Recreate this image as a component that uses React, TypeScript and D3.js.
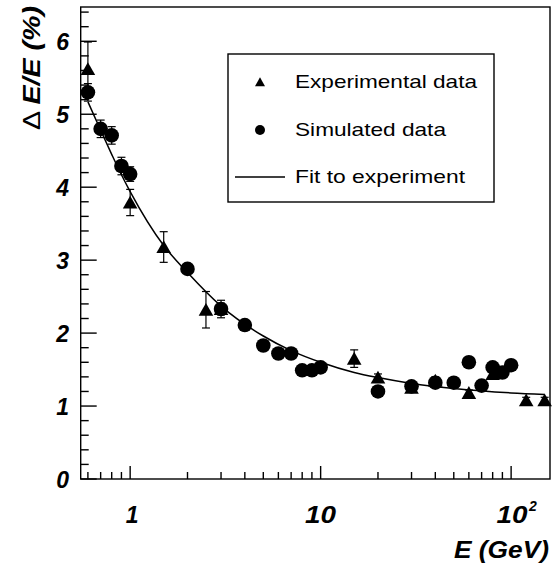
import React from "react";
import * as d3 from "d3";

const expE = [0.6, 1, 1.5, 2.5, 3, 15, 20, 30, 40, 60, 80, 120, 150];
const expV = [5.62, 3.79, 3.18, 2.32, 2.33, 1.65, 1.39, 1.25, 1.35, 1.18, 1.44, 1.08, 1.08];
const expErr = [0.37, 0.18, 0.21, 0.25, 0.12, 0.12, 0.05, 0.04, 0.05, 0.04, 0.05, 0.04, 0.04];

const simE = [0.6, 0.7, 0.8, 0.9, 1, 2, 3, 4, 5, 6, 7, 8, 9, 10, 20, 30, 40, 50, 60, 70, 80, 90, 100];
const simV = [5.3, 4.8, 4.71, 4.29, 4.18, 2.88, 2.33, 2.11, 1.83, 1.72, 1.72, 1.49, 1.49, 1.53, 1.2, 1.27, 1.32, 1.32, 1.6, 1.28, 1.53, 1.46, 1.56];
const simErr = [0.12, 0.12, 0.12, 0.12, 0.1, 0.05, 0.08, 0.05, 0.04, 0.04, 0.04, 0.04, 0.04, 0.04, 0.03, 0.03, 0.03, 0.03, 0.03, 0.03, 0.03, 0.03, 0.03];

const fitE = [0.6, 0.7, 0.8, 0.9, 1, 1.5, 2, 3, 5, 7, 10, 15, 20, 30, 50, 100, 150];
const fitV = [5.17, 4.78, 4.45, 4.17, 3.94, 3.2, 2.83, 2.37, 1.96, 1.76, 1.6, 1.46, 1.39, 1.31, 1.24, 1.18, 1.16];

const yMajor = [0, 1, 2, 3, 4, 5, 6];
const xMajor = [1, 10, 100];
const xMinor = [0.6, 0.7, 0.8, 0.9, 2, 3, 4, 5, 6, 7, 8, 9, 20, 30, 40, 50, 60, 70, 80, 90];

const legendLabels = ["Experimental data", "Simulated data", "Fit to experiment"];

const L = 80.7, R = 550, T = 7, B = 479;

export default function App() {
  const x = d3.scaleLog().domain([0.55, 160]).range([L, R]);
  const y = d3.scaleLinear().domain([0, 6.47]).range([B, T]);
  const yMinor = d3.range(0, 6.41, 0.2).filter((v) => Math.abs(v - Math.round(v)) > 0.01);

  const line = d3
    .line<number>()
    .x((_, i) => x(fitE[i]))
    .y((d) => y(d))
    .curve(d3.curveMonotoneX);

  const tri = "M -7.3,6 L 7.3,6 L 0,-6.8 Z";
  const font = "'Liberation Sans', Arial, Helvetica, sans-serif";

  return (
    <svg width={554} height={568} style={{ position: "absolute", left: 0, top: 0, background: "#fff" }}>
      <rect x={0} y={0} width={554} height={568} fill="#fff" />
      {/* frame */}
      <rect x={L} y={T} width={R - L} height={B - T} fill="none" stroke="#000" strokeWidth={1.4} />
      {/* y ticks */}
      {yMajor.map((v) => (
        <line key={"ym" + v} x1={L} x2={L + 16} y1={y(v)} y2={y(v)} stroke="#000" strokeWidth={1.4} />
      ))}
      {yMinor.map((v) => (
        <line key={"yn" + v} x1={L} x2={L + 8} y1={y(v)} y2={y(v)} stroke="#000" strokeWidth={1.4} />
      ))}
      {/* x ticks */}
      {xMajor.map((v) => (
        <line key={"xm" + v} x1={x(v)} x2={x(v)} y1={B} y2={B - 13} stroke="#000" strokeWidth={1.4} />
      ))}
      {xMinor.map((v) => (
        <line key={"xn" + v} x1={x(v)} x2={x(v)} y1={B} y2={B - 7} stroke="#000" strokeWidth={1.4} />
      ))}
      {/* y tick labels */}
      {yMajor.map((v) => (
        <text key={"yl" + v} x={69} y={y(v) + 9} textAnchor="end" fontFamily={font} fontWeight="bold" fontStyle="italic" fontSize={23} fill="#000">
          {v}
        </text>
      ))}
      {/* x tick labels */}
      <text x={x(1) + 2} y={523} textAnchor="middle" fontFamily={font} fontWeight="bold" fontStyle="italic" fontSize={23}>1</text>
      <text x={x(10)} y={523} textAnchor="middle" fontFamily={font} fontWeight="bold" fontStyle="italic" fontSize={23} textLength={31} lengthAdjust="spacingAndGlyphs">10</text>
      <text x={x(100) + 1} y={523} textAnchor="middle" fontFamily={font} fontWeight="bold" fontStyle="italic" fontSize={23} textLength={31} lengthAdjust="spacingAndGlyphs">10</text>
      <text x={x(100) + 18} y={511} textAnchor="start" fontFamily={font} fontWeight="bold" fontStyle="italic" fontSize={14}>2</text>
      {/* axis titles */}
      <text x={549} y={558} textAnchor="end" fontFamily={font} fontWeight="bold" fontStyle="italic" fontSize={23} textLength={95} lengthAdjust="spacingAndGlyphs">E (GeV)</text>
      <text transform="translate(40,6) rotate(-90)" textAnchor="end" fontFamily={font} fontSize={24} textLength={124} lengthAdjust="spacingAndGlyphs">
        <tspan fontWeight="normal">Δ </tspan>
        <tspan fontWeight="bold" fontStyle="italic">E/E (%)</tspan>
      </text>
      {/* fit */}
      <path d={line(fitV) || ""} fill="none" stroke="#000" strokeWidth={1.5} />
      {/* error bars */}
      {expE.map((e, i) => (
        <g key={"ee" + i} stroke="#000" strokeWidth={1.2}>
          <line x1={x(e)} x2={x(e)} y1={y(expV[i] - expErr[i])} y2={y(expV[i] + expErr[i])} />
          <line x1={x(e) - 4} x2={x(e) + 4} y1={y(expV[i] + expErr[i])} y2={y(expV[i] + expErr[i])} />
          <line x1={x(e) - 4} x2={x(e) + 4} y1={y(expV[i] - expErr[i])} y2={y(expV[i] - expErr[i])} />
        </g>
      ))}
      {simE.map((e, i) => (
        <g key={"se" + i} stroke="#000" strokeWidth={1.2}>
          <line x1={x(e)} x2={x(e)} y1={y(simV[i] - simErr[i])} y2={y(simV[i] + simErr[i])} />
          <line x1={x(e) - 4} x2={x(e) + 4} y1={y(simV[i] + simErr[i])} y2={y(simV[i] + simErr[i])} />
          <line x1={x(e) - 4} x2={x(e) + 4} y1={y(simV[i] - simErr[i])} y2={y(simV[i] - simErr[i])} />
        </g>
      ))}
      {/* markers */}
      {expE.map((e, i) => (
        <path key={"t" + i} d={tri} transform={`translate(${x(e)},${y(expV[i])})`} fill="#000" />
      ))}
      {simE.map((e, i) => (
        <circle key={"c" + i} cx={x(e)} cy={y(simV[i])} r={7.3} fill="#000" />
      ))}
      {/* legend */}
      <rect x={228} y={54} width={266} height={148} fill="#fff" stroke="#000" strokeWidth={1.4} />
      <path d="M -5,4.3 L 5,4.3 L 0,-4.7 Z" transform="translate(260,82)" fill="#000" />
      <circle cx={260} cy={130} r={5} fill="#000" />
      <line x1={235} x2={285} y1={177} y2={177} stroke="#000" strokeWidth={1.3} />
      {legendLabels.map((t, i) => (
        <text key={t} x={295} y={[88, 136, 183][i]} fontFamily={font} fontSize={19} textLength={[182, 151, 170][i]} lengthAdjust="spacingAndGlyphs">
          {t}
        </text>
      ))}
    </svg>
  );
}
